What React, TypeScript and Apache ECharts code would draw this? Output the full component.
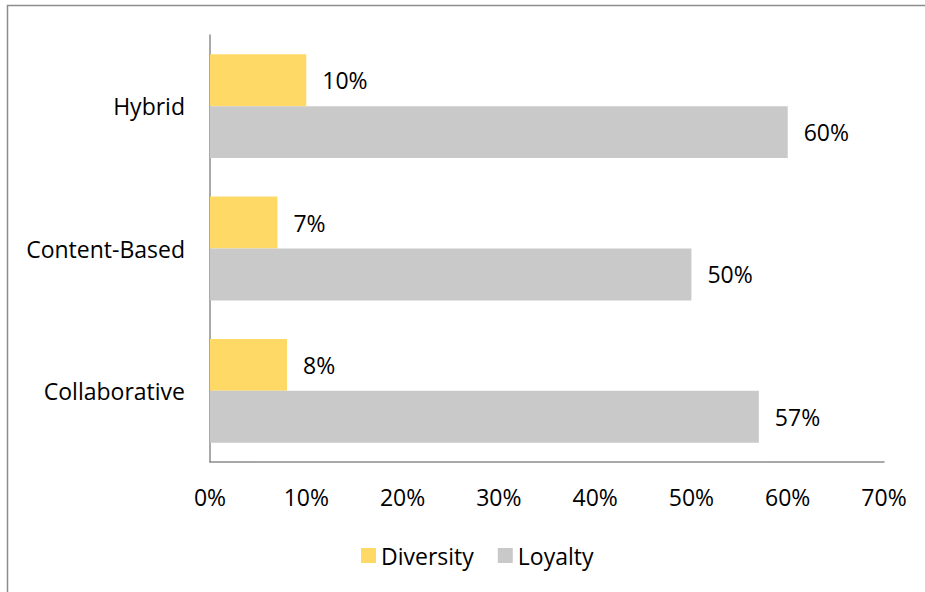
import React, { useEffect, useRef } from "react";
import * as echarts from "echarts";

const categories = ["Collaborative", "Content-Based", "Hybrid"];
const diversity = [8, 7, 10];
const loyalty = [57, 50, 60];
const xTicks = [0, 10, 20, 30, 40, 50, 60, 70];

const FONT = "'Open Sans', sans-serif";
const FS = 23;

export default function App() {
  const ref = useRef<HTMLDivElement>(null);
  useEffect(() => {
    if (!ref.current) return;
    const chart = echarts.init(ref.current, null, { renderer: "svg" });
    const label = {
      show: true,
      position: "right",
      distance: 16,
      formatter: (p: any) => p.value + "%",
      fontFamily: FONT,
      fontSize: FS,
      color: "#000",
    };
    chart.setOption({
      animation: false,
      backgroundColor: "#ffffff",
      textStyle: { fontFamily: FONT },
      graphic: [
        {
          type: "rect",
          shape: { x: 7.5, y: 5.5, width: 940, height: 600 },
          style: { fill: "none", stroke: "#8c8c8c", lineWidth: 1.5 },
          silent: true,
        },
      ],
      legend: {
        left: 356,
        top: 539,
        itemWidth: 15,
        itemHeight: 15,
        itemGap: 24,
        icon: "rect",
        textStyle: { fontFamily: FONT, fontSize: FS, color: "#000" },
        data: ["Diversity", "Loyalty"],
      },
      grid: { left: 210, right: 925 - 884, top: 35, bottom: 592 - 462, containLabel: false },
      xAxis: {
        type: "value",
        min: xTicks[0],
        max: xTicks[xTicks.length - 1],
        interval: 10,
        axisLine: { show: true, lineStyle: { color: "#8c8c8c", width: 1.5 } },
        axisTick: { show: false },
        splitLine: { show: false },
        axisLabel: {
          formatter: (v: number) => v + "%",
          fontFamily: FONT,
          fontSize: FS,
          color: "#000",
          margin: 23,
        },
      },
      yAxis: {
        type: "category",
        data: categories,
        axisLine: { show: true, lineStyle: { color: "#8c8c8c", width: 1.5 } },
        axisTick: { show: false },
        axisLabel: { fontFamily: FONT, fontSize: FS, color: "#000", margin: 25 },
      },
      series: [
        {
          name: "Diversity",
          type: "bar",
          data: diversity,
          itemStyle: { color: "#FFD966" },
          barGap: "0%",
          barCategoryGap: "27%",
          label,
        },
        {
          name: "Loyalty",
          type: "bar",
          data: loyalty,
          itemStyle: { color: "#C9C9C9" },
          barGap: "0%",
          barCategoryGap: "27%",
          label,
        },
      ],
    });
    return () => chart.dispose();
  }, []);
  return (
    <div
      ref={ref}
      style={{ position: "absolute", left: 0, top: 0, width: 925, height: 592 }}
    />
  );
}
